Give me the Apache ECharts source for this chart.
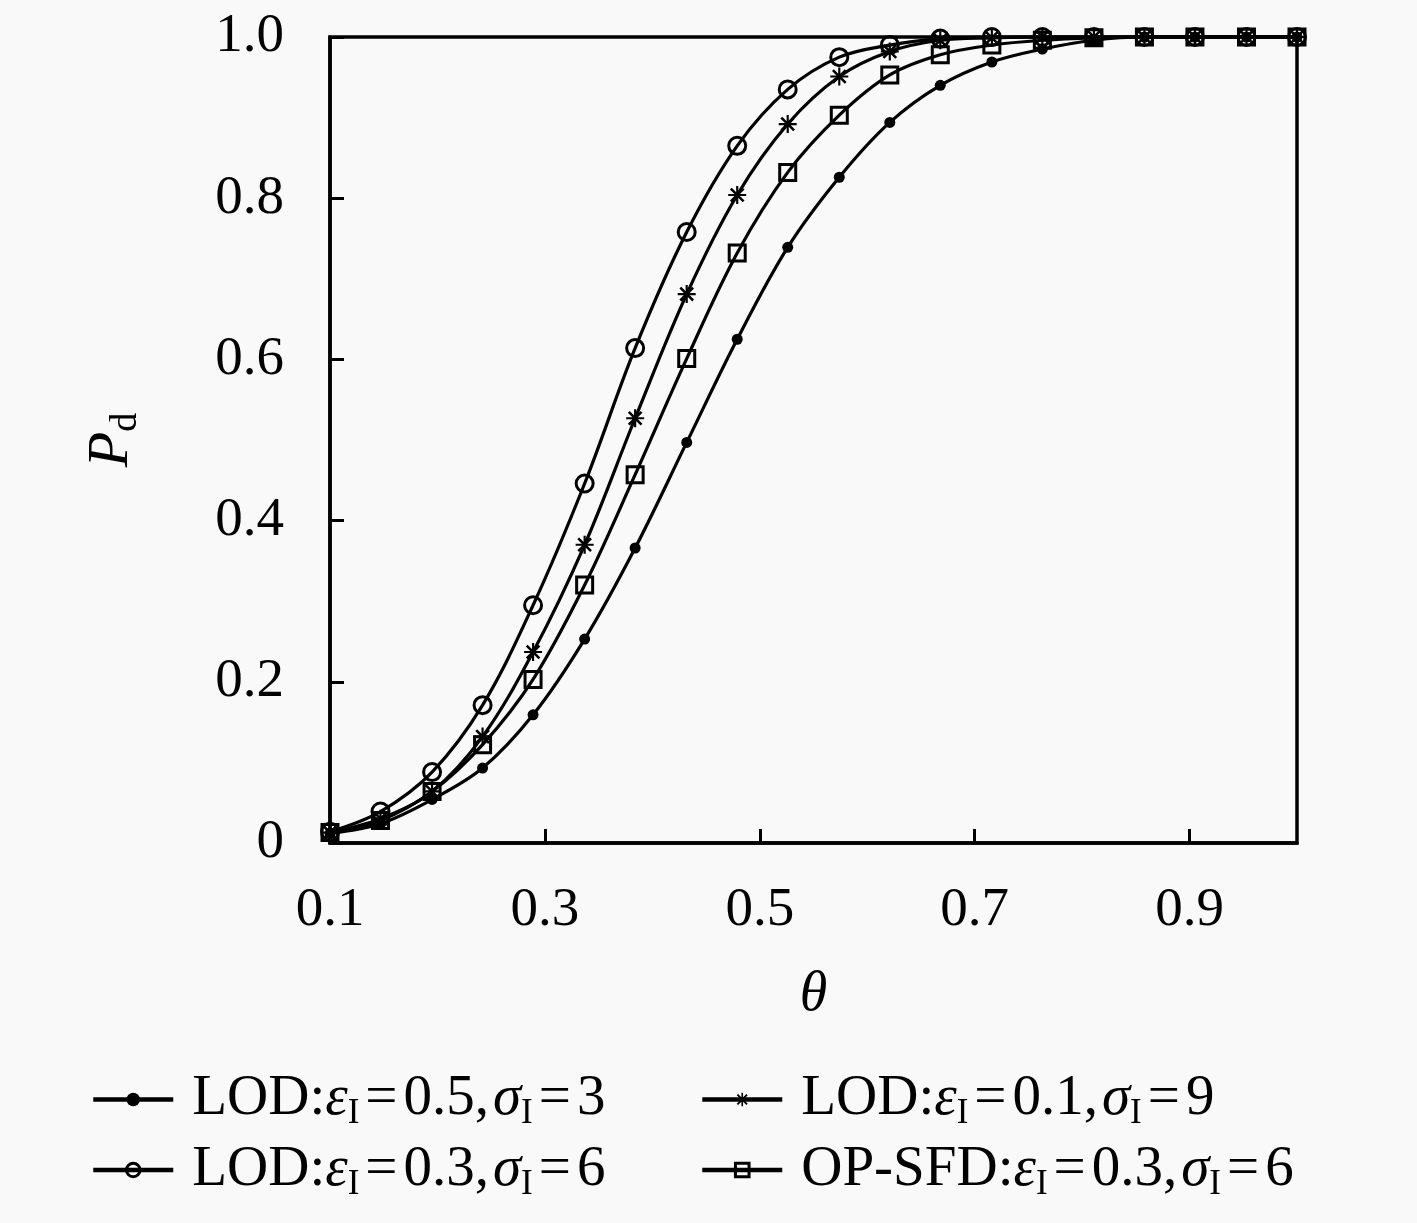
<!DOCTYPE html>
<html>
<head>
<meta charset="utf-8">
<script src="https://cdn.jsdelivr.net/npm/echarts@6/dist/echarts.min.js"></script>
<style>html,body{margin:0;padding:0;background:#f9f9f9;}#c{width:1417px;height:1223px;}</style>
</head>
<body>
<div id="c"></div>
<script>
const thetas = [0.1, 0.147, 0.195, 0.242, 0.289, 0.337, 0.384, 0.432, 0.479, 0.526, 0.574, 0.621, 0.668, 0.716, 0.763, 0.811, 0.858, 0.905, 0.953, 1.0];
const lod05s3 = [0.012, 0.024, 0.054, 0.093, 0.159, 0.253, 0.366, 0.497, 0.625, 0.739, 0.826, 0.894, 0.940, 0.969, 0.985, 0.996, 1, 1, 1, 1];
const lod03s6 = [0.014, 0.039, 0.088, 0.171, 0.295, 0.446, 0.614, 0.758, 0.865, 0.935, 0.975, 0.990, 0.998, 1, 1, 1, 1, 1, 1, 1];
const lod01s9 = [0.013, 0.030, 0.064, 0.132, 0.237, 0.370, 0.527, 0.681, 0.804, 0.892, 0.951, 0.982, 0.996, 0.999, 1, 1, 1, 1, 1, 1];
const opsfd03s6 = [0.013, 0.028, 0.064, 0.122, 0.203, 0.320, 0.457, 0.601, 0.732, 0.832, 0.903, 0.953, 0.978, 0.990, 0.996, 0.999, 1, 1, 1, 1];
const xTicks = [0.1, 0.3, 0.5, 0.7, 0.9];
const legendLabels = {
  s1: ['LOD:', '0.5', '3'],
  s2: ['LOD:', '0.3', '6'],
  s3: ['LOD:', '0.1', '9'],
  s4: ['OP-SFD:', '0.3', '6']
};

const SERIF = '"Liberation Serif", "DejaVu Serif", serif';
const asterisk = 'path://M0 8.8L20 8.8L20 11.2L0 11.2Z M8.8 0L11.2 0L11.2 20L8.8 20Z M3.9 1.9L18.1 16.1L16.1 18.1L1.9 3.9Z M1.9 16.1L16.1 1.9L18.1 3.9L3.9 18.1Z';

function pairs(arr) { return thetas.map((t, i) => [t, arr[i]]); }

const chart = echarts.init(document.getElementById('c'));
const baseSeries = {
  type: 'line', smooth: 0.35, clip: false,
  lineStyle: { color: '#000', width: 3.2 },
  z: 3
};
const FS = 57;
const richLegend = {
  t: { fontFamily: SERIF, fontSize: FS, color: '#000', lineHeight: 64, padding: [0, 0, 0, 14] },
  n: { fontFamily: SERIF, fontSize: FS, color: '#000', lineHeight: 64 },
  c: { fontFamily: SERIF, fontSize: FS, color: '#000', lineHeight: 64, padding: [0, 4, 0, 0] },
  e: { fontFamily: SERIF, fontSize: FS, color: '#000', lineHeight: 64, padding: [0, 6, 0, 6] },
  g: { fontFamily: SERIF, fontSize: FS, fontStyle: 'italic', color: '#000', lineHeight: 64 },
  s: { fontFamily: SERIF, fontSize: 35, color: '#000', lineHeight: 34, verticalAlign: 'bottom' }
};
function legendFmt(name) {
  const l = legendLabels[name];
  return '{t|' + l[0] + '}{g|ε}{s|I}{e|=}{n|' + l[1] + '}{c|,}{g|σ}{s|I}{e|=}{n|' + l[2] + '}';
}
const legendCommon = {
  orient: 'vertical', itemGap: 10, top: 1066,
  itemWidth: 80, itemHeight: 17, formatter: legendFmt,
  lineStyle: { width: 4.5, color: '#000' },
  itemStyle: { borderWidth: 3 },
  textStyle: { rich: richLegend }
};

chart.setOption({
  backgroundColor: '#f9f9f9',
  animation: false,
  grid: { left: 330, right: 120, top: 37, bottom: 380, show: true, borderColor: '#000', borderWidth: 3.5, backgroundColor: 'transparent' },
  xAxis: {
    type: 'value', min: 0.1, max: 1.0,
    name: 'θ', nameLocation: 'middle', nameGap: 124,
    nameTextStyle: { fontFamily: SERIF, fontSize: 56, fontStyle: 'italic', color: '#000' },
    axisLine: { show: true, lineStyle: { color: '#000', width: 3.5 } },
    axisTick: { show: true, inside: true, length: 14, lineStyle: { color: '#000', width: 3 }, customValues: xTicks },
    axisLabel: { fontFamily: SERIF, fontSize: 55, color: '#000', margin: 40, customValues: xTicks, formatter: v => v.toFixed(1) },
    splitLine: { show: false }
  },
  yAxis: {
    type: 'value', min: 0, max: 1, interval: 0.2,
    name: '{i|P}{s|d}', nameLocation: 'middle', nameGap: 185, nameRotate: 90,
    nameTextStyle: {
      rich: {
        i: { fontFamily: SERIF, fontSize: 58, fontStyle: 'italic', color: '#000', lineHeight: 66 },
        s: { fontFamily: SERIF, fontSize: 38, color: '#000', lineHeight: 40, verticalAlign: 'bottom' }
      }
    },
    axisLine: { show: true, lineStyle: { color: '#000', width: 3.5 } },
    axisTick: { show: true, inside: true, length: 14, lineStyle: { color: '#000', width: 3 } },
    axisLabel: { fontFamily: SERIF, fontSize: 55, color: '#000', margin: 46, formatter: v => v === 0 ? '0' : v.toFixed(1) },
    splitLine: { show: false }
  },
  legend: [
    Object.assign({}, legendCommon, { data: ['s1', 's2'], left: 86 }),
    Object.assign({}, legendCommon, { data: ['s3', 's4'], left: 695 })
  ],
  series: [
    Object.assign({}, baseSeries, {
      name: 's1', data: pairs(lod05s3), symbol: 'circle', symbolSize: 11,
      itemStyle: { color: '#000' }
    }),
    Object.assign({}, baseSeries, {
      name: 's2', data: pairs(lod03s6), symbol: 'circle', symbolSize: 17,
      itemStyle: { color: 'rgba(0,0,0,0)', borderColor: '#000', borderWidth: 3 }
    }),
    Object.assign({}, baseSeries, {
      name: 's3', data: pairs(lod01s9), symbol: asterisk, symbolSize: 18,
      itemStyle: { color: '#000' }
    }),
    Object.assign({}, baseSeries, {
      name: 's4', data: pairs(opsfd03s6), symbol: 'rect', symbolSize: 16,
      itemStyle: { color: 'rgba(0,0,0,0)', borderColor: '#000', borderWidth: 3 }
    })
  ]
});
</script>
</body>
</html>
